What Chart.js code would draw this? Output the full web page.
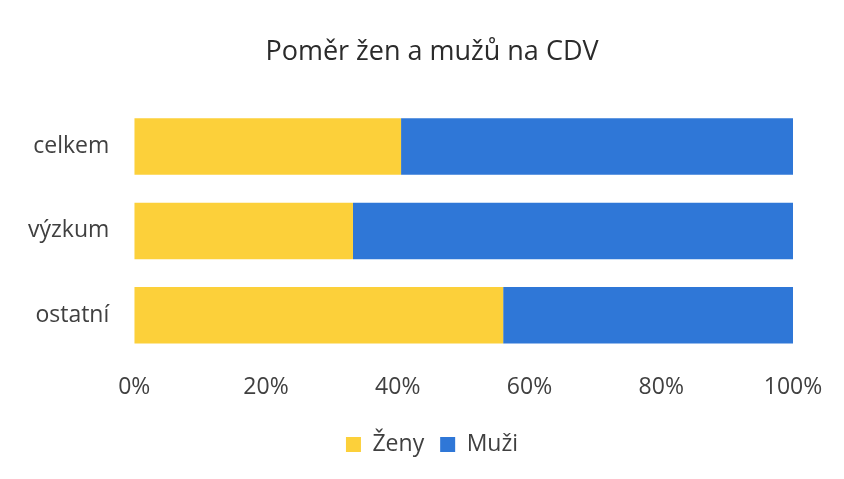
<!DOCTYPE html>
<html>
<head>
<meta charset="utf-8">
<script src="https://cdn.jsdelivr.net/npm/chart.js@4"></script>
<style>
  html, body { margin: 0; padding: 0; background: #fff; }
  #wrap { width: 844px; height: 479px; }
</style>
</head>
<body>
<div id="wrap"><canvas id="ratioChart" width="844" height="479"></canvas></div>
<script>
// categories and shares (percent)
const categories = ["celkem", "výzkum", "ostatní"];
const zeny = [40.5, 33.2, 56.0];
const muzi = [59.5, 66.8, 44.0];
const xTicks = [0, 20, 40, 60, 80, 100];

// the original image is not centred on the canvas, so nudge title + legend right
const nudgeHeader = {
  id: "nudgeHeader",
  afterLayout(chart) {
    chart.titleBlock.left += 34;
    chart.titleBlock.right += 34;
    chart.legend.left += 34;
    chart.legend.right += 34;
  },
};

const ctx = document.getElementById("ratioChart");
new Chart(ctx, {
  type: "bar",
  data: {
    labels: categories,
    datasets: [
      { label: "Ženy", data: zeny, backgroundColor: "#FCD03A", borderWidth: 0 },
      { label: "Muži", data: muzi, backgroundColor: "#2F77D7", borderWidth: 0 },
    ],
  },
  options: {
    indexAxis: "y",
    responsive: false,
    animation: false,
    categoryPercentage: 0.67,
    barPercentage: 1,
    layout: { padding: { left: 3, right: 51, top: 36, bottom: 13 } },
    scales: {
      x: {
        stacked: true,
        min: 0,
        max: 100,
        grid: { display: false, drawTicks: false },
        border: { display: false },
        afterBuildTicks: (axis) => { axis.ticks = xTicks.map((v) => ({ value: v })); },
        ticks: {
          padding: 16,
          color: "#404040",
          font: { family: "Open Sans", size: 23 },
          callback: (v) => v + "%",
        },
      },
      y: {
        stacked: true,
        grid: { display: false, drawTicks: false },
        border: { display: false },
        ticks: {
          padding: 25,
          color: "#404040",
          font: { family: "Open Sans", size: 23 },
        },
      },
    },
    plugins: {
      title: {
        display: true,
        text: "Poměr žen a mužů na CDV",
        color: "#2b2b2b",
        font: { family: "Open Sans", size: 27, weight: "normal" },
        padding: { top: 0, bottom: 36 },
      },
      legend: {
        position: "bottom",
        labels: {
          boxWidth: 15,
          boxHeight: 15,
          padding: 16,
          color: "#404040",
          font: { family: "Open Sans", size: 23 },
        },
      },
      tooltip: { enabled: false },
    },
  },
  plugins: [nudgeHeader],
});
</script>
</body>
</html>
